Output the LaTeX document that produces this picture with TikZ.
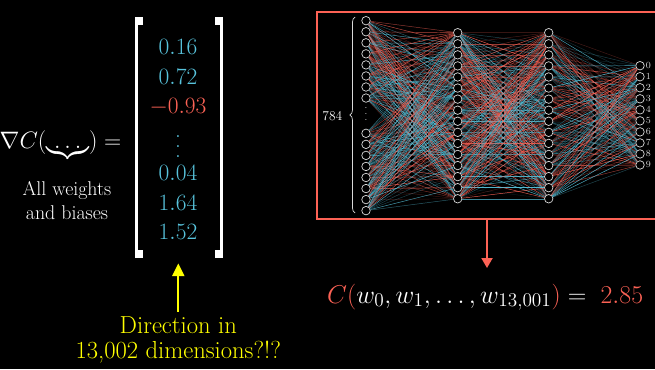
\documentclass[tikz,border=0pt]{standalone}
\usepackage{fix-cm}
\usepackage{amsmath}
\usepackage{amssymb}
\usepackage{tikz}
\usetikzlibrary{arrows.meta}
\usetikzlibrary{decorations.pathreplacing}
\usetikzlibrary{fit}
\DeclareMathSizes{22}{22}{16.5}{12}
\definecolor{netred}{HTML}{FC6255}
\definecolor{netblue}{HTML}{58C4DD}
\definecolor{diryellow}{HTML}{FFFF00}
\colorlet{weight0}{netred}
\colorlet{weight1}{netblue}
\newcommand{\eqfont}{\fontsize{20}{24}\selectfont}
\newcommand{\costfont}{\fontsize{22}{26}\selectfont}
\newcommand{\colvdots}[1]{\vbox{\baselineskip=#1\lineskiplimit=0pt\hbox{.}\hbox{.}\hbox{.}}}
\tikzstyle{neuron} = [circle, draw = white!85!black, fill = black, line width = 0.6pt, inner sep = 0, minimum size = 0.255cm]
\tikzstyle{edge} = [line width = 0.4pt]
\tikzstyle{entry} = [anchor = base, inner sep = 0, font = \eqfont]
\tikzstyle{bracket} = [fill = white]
\tikzstyle{yellow pointer} = [line width = 1.7pt, -{Triangle[width = 0.36cm, length = 0.38cm]}]
\tikzstyle{red pointer} = [line width = 1.7pt, -{Triangle[width = 0.33cm, length = 0.3cm]}]

\begin{document}
\begin{tikzpicture}[x = 0.03cm, y = -0.03cm]
    \fill [black] (0, 0) rectangle (655, 369);
    \useasboundingbox (0, 0) rectangle (655, 369);

    \node [anchor = base east, inner sep = 0, text = white, font = \fontsize{20.3}{24}\selectfont]
          (grad) at (121.5, 148) {$\nabla C(\underbrace{\ldots}) =$};
    \node [anchor = north, align = center, inner sep = 0, text = white,
           font = \fontsize{17}{20}\selectfont]
          (params) at (67, 181.5) {All weights\\and biases};

    \fill [bracket] (135, 17) rectangle (143, 25);
    \fill [bracket] (135, 17) rectangle (137.5, 258);
    \fill [bracket] (135, 250) rectangle (143, 258);
    \fill [bracket] (214.5, 17) rectangle (222.5, 25);
    \fill [bracket] (220, 17) rectangle (222.5, 258);
    \fill [bracket] (214.5, 250) rectangle (222.5, 258);

    \foreach \v/\y/\c [count = \k] in {0.16/55/netblue, 0.72/84.3/netblue,
        -0.93/113.3/netred, 0.04/180/netblue, 1.64/210/netblue, 1.52/239.3/netblue}
    {
        \node [entry, text = \c] (g\k) at (178, \y) {$\v$};
    }
    \node [entry, anchor = center, text = netblue] (gdots) at (178, 146.5) {\colvdots{8.25pt}};

    \node [anchor = north, align = center, inner sep = 0, text = diryellow,
           font = \fontsize{21}{21.3}\selectfont]
          (dir) at (178.3, 316.5) {Direction in\\13,002 dimensions?!?};
    \coordinate (dirtip) at (178.3, 263.5);
    \draw [yellow pointer, diryellow, shorten <= 0.14cm] (dir.north) -- (dirtip);

    \node [fit = {(317, 12) (657, 219)}, inner sep = 0, draw = netred, line width = 1.7pt] (netbox) {};

    \foreach \k in {1, ..., 8}
    {
        \node [neuron] (in\k) at (366, {20.7 + 11.05 * (\k - 1)}) {};
    }
    \foreach \k in {9, ..., 16}
    {
        \node [neuron] (in\k) at (366, {133.3 + 11.05 * (\k - 9)}) {};
    }
    \node [inner sep = 0, text = white!85!black, font = \fontsize{8}{9}\selectfont]
          (indots) at (366, 114) {\colvdots{4.8pt}};

    \foreach \k in {1, ..., 16}
    {
        \node [neuron] (ha\k) at (457.7, {32.7 + 11.07 * (\k - 1)}) {};
        \node [neuron] (hb\k) at (548.7, {32.7 + 11.07 * (\k - 1)}) {};
    }

    \foreach \k in {0, ..., 9}
    {
        \node [neuron, label = {[label distance = 0.4pt, inner sep = 0.5pt, text = white!85!black,
               font = \fontsize{8}{9}\selectfont]right:\k}]
              (out\k) at (640, {65.7 + 11.03 * \k}) {};
    }

    \pgfmathsetseed{13}
    \foreach \a in {1, ..., 16}
    {
        \foreach \b in {1, ..., 16}
        {
            \pgfmathtruncatemacro{\wsg}{rnd < 0.5 ? 0 : 1}
            \pgfmathsetmacro{\wop}{0.12 + 0.85 * rnd}
            \draw [edge, draw = weight\wsg, draw opacity = \wop] (in\a) -- (ha\b);
            \pgfmathtruncatemacro{\wsg}{rnd < 0.5 ? 0 : 1}
            \pgfmathsetmacro{\wop}{0.12 + 0.85 * rnd}
            \draw [edge, draw = weight\wsg, draw opacity = \wop] (ha\a) -- (hb\b);
        }
    }
    \foreach \a in {1, ..., 16}
    {
        \foreach \b in {0, ..., 9}
        {
            \pgfmathtruncatemacro{\wsg}{rnd < 0.5 ? 0 : 1}
            \pgfmathsetmacro{\wop}{0.12 + 0.85 * rnd}
            \draw [edge, draw = weight\wsg, draw opacity = \wop] (hb\a) -- (out\b);
        }
    }

    \draw [decorate, decoration = {brace, amplitude = 4.3pt}, white!85!black, line width = 0.6pt]
          (355, 213) -- (355, 17);
    \node [anchor = east, inner sep = 0, text = white, font = \fontsize{11.5}{13}\selectfont]
          (width) at (342.5, 116.5) {784};

    \coordinate (costtip) at (487, 268);
    \draw [red pointer, netred] (netbox.south) -- (costtip);
    \node [anchor = base west, inner sep = 0, text = white, font = \costfont]
          (cost) at (327, 303)
          {$\textcolor{netred}{C(}w_0, w_1, \ldots, w_{13,001}\textcolor{netred}{)} = \; \textcolor{netred}{2.85}$};
\end{tikzpicture}
\end{document}
